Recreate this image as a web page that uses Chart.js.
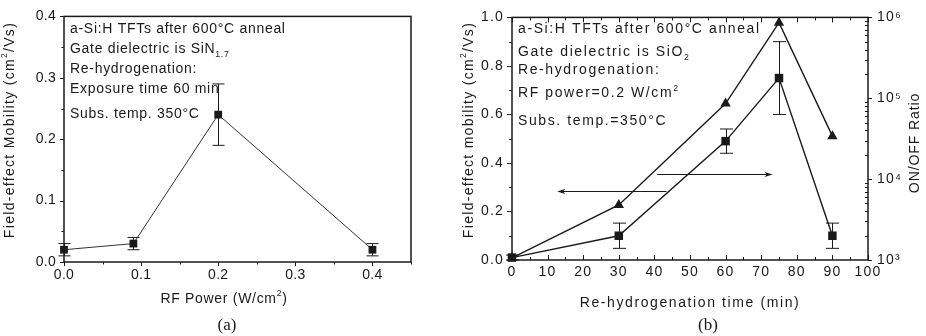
<!DOCTYPE html>
<html lang="en">
<head>
  <meta charset="UTF-8">
  <title>Re-hydrogenation of a-Si:H TFTs</title>
  <script src="https://cdn.jsdelivr.net/npm/chart.js"></script>
  <style>
    html, body { margin: 0; padding: 0; background: #fff; }
    .panel { position: absolute; top: 0; }
    #panelA { left: 0; }
    #panelB { left: 460px; }
  </style>
</head>
<body>
  <div class="panel" id="panelA"><canvas id="chartA" width="460" height="336"></canvas></div>
  <div class="panel" id="panelB"><canvas id="chartB" width="466" height="336"></canvas></div>

  <script>
    // (a) mobility vs RF power
    const rfPower = [0, 0.09, 0.2, 0.4];
    const mobilityA = [0.02, 0.03, 0.24, 0.02];
    const mobilityAErr = [0.01, 0.01, 0.05, 0.01];

    // (b) mobility + ON/OFF ratio vs re-hydrogenation time
    const rehydTime = [0, 30, 60, 75, 90];
    const mobilityB = [0.01, 0.1, 0.49, 0.75, 0.1];
    const mobilityBErr = [0.01, 0.052, 0.05, 0.15, 0.052];
    const onOffRatio = [1060, 4800, 86000, 860000, 34000];

    const onOffTicks = [1e3, 1e4, 1e5, 1e6];
    const onOffTickLabels = ['10³', '10⁴', '10⁵', '10⁶'];

    const notesA = [
      ['a-Si:H TFTs after 600°C anneal'],
      ['Gate dielectric is SiN', ['1.7', 'sub']],
      ['Re-hydrogenation:'],
      ['Exposure time 60 min'],
      ['Subs. temp. 350°C']
    ];
    const notesB = [
      ['a-Si:H TFTs after 600°C anneal'],
      ['Gate dielectric is SiO', ['2', 'sub']],
      ['Re-hydrogenation:'],
      ['RF power=0.2 W/cm', ['2', 'sup']],
      ['Subs. temp.=350°C']
    ];

    // arrows in (b): which curve belongs to which axis (data coords, left axis y)
    const arrowsB = [
      { y: 0.284, from: 43.4, to: 12.7 },
      { y: 0.356, from: 40.8, to: 73.2 }
    ];

    const ink = '#1a1a1a';
    const sans = '"Liberation Sans", Arial, "DejaVu Sans", sans-serif';
    const serif = '"Liberation Serif", "Times New Roman", serif';

    function points(xs, ys) {
      return xs.map((x, i) => ({ x: x, y: ys[i] }));
    }

    function steps(from, to, step) {
      const out = [];
      for (let v = from; v <= to + 1e-9; v += step) out.push(+v.toFixed(6));
      return out;
    }

    function logMinors(lo, hi) {
      const out = [];
      for (let d = lo; d < hi; d *= 10) {
        for (let k = 2; k <= 9; k++) out.push(k * d);
      }
      return out;
    }

    // rich text: strings, or [text, 'sup'|'sub']
    function partsOf(line) {
      return line.map(p => typeof p === 'string' ? { t: p } : { t: p[0], k: p[1] });
    }

    function richWidth(ctx, parts, size, family) {
      let w = 0;
      parts.forEach(p => {
        ctx.font = (p.k ? size * 0.62 : size) + 'px ' + family;
        w += ctx.measureText(p.t).width;
      });
      return w;
    }

    function drawRich(ctx, parts, x, y, size, family) {
      parts.forEach(p => {
        const fs = p.k ? size * 0.62 : size;
        const dy = p.k === 'sup' ? -size * 0.4 : p.k === 'sub' ? size * 0.28 : 0;
        ctx.font = fs + 'px ' + family;
        ctx.fillText(p.t, x, y + dy);
        x += ctx.measureText(p.t).width;
      });
    }

    // letter spacing for the library's own tick labels
    const spacing = {
      id: 'spacing',
      beforeDraw(chart, args, opts) {
        chart.ctx.letterSpacing = opts.ticks || '0px';
      }
    };

    // error bars, drawn under the markers
    const errorBars = {
      id: 'errorBars',
      beforeDatasetsDraw(chart, args, opts) {
        const ctx = chart.ctx;
        chart.data.datasets.forEach((ds, i) => {
          if (!ds.errors) return;
          const meta = chart.getDatasetMeta(i);
          const ys = chart.scales[meta.yAxisID];
          ctx.save();
          ctx.strokeStyle = ink;
          ctx.lineWidth = 1;
          ctx.beginPath();
          meta.data.forEach((pt, j) => {
            const v = ds.data[j].y, e = ds.errors[j];
            const top = ys.getPixelForValue(v + e);
            const bot = ys.getPixelForValue(v - e);
            const x = Math.round(pt.x) + 0.5;
            ctx.moveTo(x, top); ctx.lineTo(x, bot);
            ctx.moveTo(x - opts.cap, top); ctx.lineTo(x + opts.cap, top);
            ctx.moveTo(x - opts.cap, bot); ctx.lineTo(x + opts.cap, bot);
          });
          ctx.stroke();
          ctx.restore();
        });
      }
    };

    // frame + major/minor tick marks, some pointing inward
    const frameTicks = {
      id: 'frameTicks',
      afterDraw(chart, args, opts) {
        const ctx = chart.ctx;
        const a = chart.chartArea;
        ctx.save();
        ctx.strokeStyle = ink;
        ctx.lineWidth = opts.frameWidth;
        ctx.strokeRect(a.left, a.top, a.right - a.left, a.bottom - a.top);
        ctx.lineWidth = 1;
        opts.marks.forEach(m => {
          const scale = chart.scales[m.scale];
          const s = m.dir === 'in' ? -1 : 1;
          ctx.beginPath();
          m.values.forEach(v => {
            const p = Math.round(scale.getPixelForValue(v)) + 0.5;
            if (m.side === 'bottom') { ctx.moveTo(p, a.bottom); ctx.lineTo(p, a.bottom + s * m.len); }
            else if (m.side === 'top') { ctx.moveTo(p, a.top); ctx.lineTo(p, a.top - s * m.len); }
            else if (m.side === 'left') { ctx.moveTo(a.left, p); ctx.lineTo(a.left - s * m.len, p); }
            else { ctx.moveTo(a.right, p); ctx.lineTo(a.right + s * m.len, p); }
          });
          ctx.stroke();
        });
        ctx.restore();
      }
    };

    // arrows pointing at the axis a curve belongs to
    const axisArrows = {
      id: 'axisArrows',
      afterDatasetsDraw(chart, args, opts) {
        if (!opts.arrows) return;
        const ctx = chart.ctx;
        const xs = chart.scales.x, ys = chart.scales.y;
        ctx.save();
        ctx.strokeStyle = ink;
        ctx.fillStyle = ink;
        ctx.lineWidth = 1;
        opts.arrows.forEach(ar => {
          const y = Math.round(ys.getPixelForValue(ar.y)) + 0.5;
          const x0 = xs.getPixelForValue(ar.from);
          const x1 = xs.getPixelForValue(ar.to);
          const d = x1 > x0 ? 1 : -1;
          ctx.beginPath();
          ctx.moveTo(x0, y); ctx.lineTo(x1 - d * 4, y);
          ctx.stroke();
          ctx.beginPath();
          ctx.moveTo(x1, y);
          ctx.lineTo(x1 - d * 8, y - 2.5);
          ctx.lineTo(x1 - d * 6, y);
          ctx.lineTo(x1 - d * 8, y + 2.5);
          ctx.closePath();
          ctx.fill();
        });
        ctx.restore();
      }
    };

    // notes, axis titles and caption
    const figureText = {
      id: 'figureText',
      afterDraw(chart, args, opts) {
        const ctx = chart.ctx;
        ctx.save();
        ctx.fillStyle = ink;
        ctx.textAlign = 'left';
        ctx.textBaseline = 'alphabetic';
        ctx.letterSpacing = opts.noteSpacing;
        opts.notes.forEach((line, i) => {
          drawRich(ctx, partsOf(line), opts.noteX, opts.noteY[i], opts.noteSize, sans);
        });
        opts.titles.forEach(t => {
          const parts = partsOf(t.parts);
          ctx.save();
          ctx.letterSpacing = t.spacing;
          ctx.textBaseline = 'middle';
          ctx.translate(t.x, t.y);
          ctx.rotate(t.rot || 0);
          const w = richWidth(ctx, parts, t.size, sans);
          drawRich(ctx, parts, -w / 2, 0, t.size, sans);
          ctx.restore();
        });
        const c = opts.caption;
        ctx.letterSpacing = '0px';
        ctx.textAlign = 'center';
        ctx.font = c.size + 'px ' + serif;
        ctx.fillText(c.text, c.x, c.y);
        ctx.restore();
      }
    };

    Chart.register(spacing, errorBars, frameTicks, axisArrows, figureText);
    Chart.defaults.color = ink;
    Chart.defaults.font.family = sans;
    Chart.defaults.font.size = 14;

    const noGrid = { display: false, drawTicks: false };
    const noBorder = { display: false };

    // ---- (a) ----
    new Chart(document.getElementById('chartA'), {
      type: 'line',
      data: {
        datasets: [{
          data: points(rfPower, mobilityA),
          errors: mobilityAErr,
          borderColor: '#333',
          borderWidth: 1,
          pointStyle: 'rect',
          pointRadius: 5.5,
          pointBackgroundColor: ink,
          pointBorderColor: ink,
          pointBorderWidth: 0,
          clip: false
        }]
      },
      options: {
        responsive: false,
        animation: false,
        events: [],
        layout: { padding: { top: 15, right: 49, left: 0, bottom: 0 } },
        plugins: {
          legend: { display: false },
          tooltip: { enabled: false },
          spacing: { ticks: '0.3px' },
          errorBars: { cap: 6 },
          frameTicks: {
            frameWidth: 1.5,
            marks: [
              { scale: 'x', side: 'bottom', dir: 'out', len: 4, values: steps(0, 0.4, 0.1) },
              { scale: 'x', side: 'bottom', dir: 'out', len: 2.5, values: steps(0.05, 0.45, 0.1) },
              { scale: 'y', side: 'left', dir: 'out', len: 4, values: steps(0, 0.4, 0.1) },
              { scale: 'y', side: 'left', dir: 'out', len: 2.5, values: steps(0.05, 0.35, 0.1) }
            ]
          },
          axisArrows: {},
          figureText: {
            notes: notesA,
            noteX: 70,
            noteY: [33, 53, 73, 93, 118],
            noteSize: 14,
            noteSpacing: '0.7px',
            titles: [
              { parts: ['Field-effect Mobility (cm', ['2', 'sup'], '/Vs)'], x: 10, y: 130, rot: -Math.PI / 2, size: 14, spacing: '1.3px' },
              { parts: ['RF Power (W/cm', ['2', 'sup'], ')'], x: 224, y: 299, size: 14, spacing: '0.7px' }
            ],
            caption: { text: '(a)', x: 227, y: 330, size: 17 }
          }
        },
        scales: {
          x: {
            type: 'linear',
            min: 0,
            max: 0.45,
            grid: noGrid,
            border: noBorder,
            ticks: { stepSize: 0.1, includeBounds: false, padding: 5, callback: v => v.toFixed(1) },
            afterFit: s => { s.height = 74; }
          },
          y: {
            min: 0,
            max: 0.4,
            grid: noGrid,
            border: noBorder,
            ticks: { stepSize: 0.1, padding: 8, callback: v => v.toFixed(1) },
            afterFit: s => { s.width = 64; }
          }
        }
      }
    });

    // ---- (b) ----
    new Chart(document.getElementById('chartB'), {
      type: 'line',
      data: {
        datasets: [{
          data: points(rehydTime, onOffRatio),
          yAxisID: 'y1',
          borderColor: ink,
          borderWidth: 1.4,
          pointStyle: 'triangle',
          pointRadius: 6,
          pointBackgroundColor: ink,
          pointBorderColor: ink,
          pointBorderWidth: 0,
          clip: false
        }, {
          data: points(rehydTime, mobilityB),
          errors: mobilityBErr,
          yAxisID: 'y',
          borderColor: ink,
          borderWidth: 1.4,
          pointStyle: 'rect',
          pointRadius: 6,
          pointBackgroundColor: ink,
          pointBorderColor: ink,
          pointBorderWidth: 0,
          clip: false
        }]
      },
      options: {
        responsive: false,
        animation: false,
        events: [],
        layout: { padding: { top: 10, right: 0, left: 0, bottom: 0 } },
        plugins: {
          legend: { display: false },
          tooltip: { enabled: false },
          spacing: { ticks: '1.2px' },
          errorBars: { cap: 6.5 },
          frameTicks: {
            frameWidth: 1.5,
            marks: [
              { scale: 'x', side: 'bottom', dir: 'in', len: 5, values: steps(0, 100, 10) },
              { scale: 'x', side: 'bottom', dir: 'in', len: 3, values: steps(5, 95, 10) },
              { scale: 'x', side: 'top', dir: 'in', len: 5, values: steps(0, 100, 10) },
              { scale: 'x', side: 'top', dir: 'in', len: 3, values: steps(5, 95, 10) },
              { scale: 'y', side: 'left', dir: 'out', len: 5, values: steps(0, 1, 0.2) },
              { scale: 'y', side: 'left', dir: 'out', len: 3, values: steps(0.1, 0.9, 0.2) },
              { scale: 'y1', side: 'right', dir: 'out', len: 4, values: onOffTicks },
              { scale: 'y1', side: 'right', dir: 'in', len: 3, values: logMinors(1e3, 1e6) }
            ]
          },
          axisArrows: { arrows: arrowsB },
          figureText: {
            notes: notesB,
            noteX: 58,
            noteY: [33, 56, 74, 97, 125],
            noteSize: 14,
            noteSpacing: '1.6px',
            titles: [
              { parts: ['Field-effect mobility (cm', ['2', 'sup'], '/Vs)'], x: 9, y: 130, rot: -Math.PI / 2, size: 14, spacing: '1.3px' },
              { parts: ['ON/OFF Ratio'], x: 455, y: 143, rot: -Math.PI / 2, size: 14, spacing: '0.9px' },
              { parts: ['Re-hydrogenation time (min)'], x: 230, y: 303, size: 14, spacing: '1.6px' }
            ],
            caption: { text: '(b)', x: 248, y: 330, size: 17 }
          }
        },
        scales: {
          x: {
            type: 'linear',
            min: 0,
            max: 100,
            grid: noGrid,
            border: noBorder,
            ticks: { stepSize: 10, padding: 4 },
            afterFit: s => { s.height = 76; }
          },
          y: {
            position: 'left',
            min: 0,
            max: 1,
            grid: noGrid,
            border: noBorder,
            ticks: { stepSize: 0.2, padding: 8, callback: v => v.toFixed(1) },
            afterFit: s => { s.width = 52; }
          },
          y1: {
            type: 'logarithmic',
            position: 'right',
            min: 1e3,
            max: 1e6,
            grid: noGrid,
            border: noBorder,
            afterBuildTicks: s => { s.ticks = onOffTicks.map(v => ({ value: v, major: true })); },
            ticks: { padding: 9, callback: (v, i) => onOffTickLabels[i] },
            afterFit: s => { s.width = 58; }
          }
        }
      }
    });
  </script>
</body>
</html>
